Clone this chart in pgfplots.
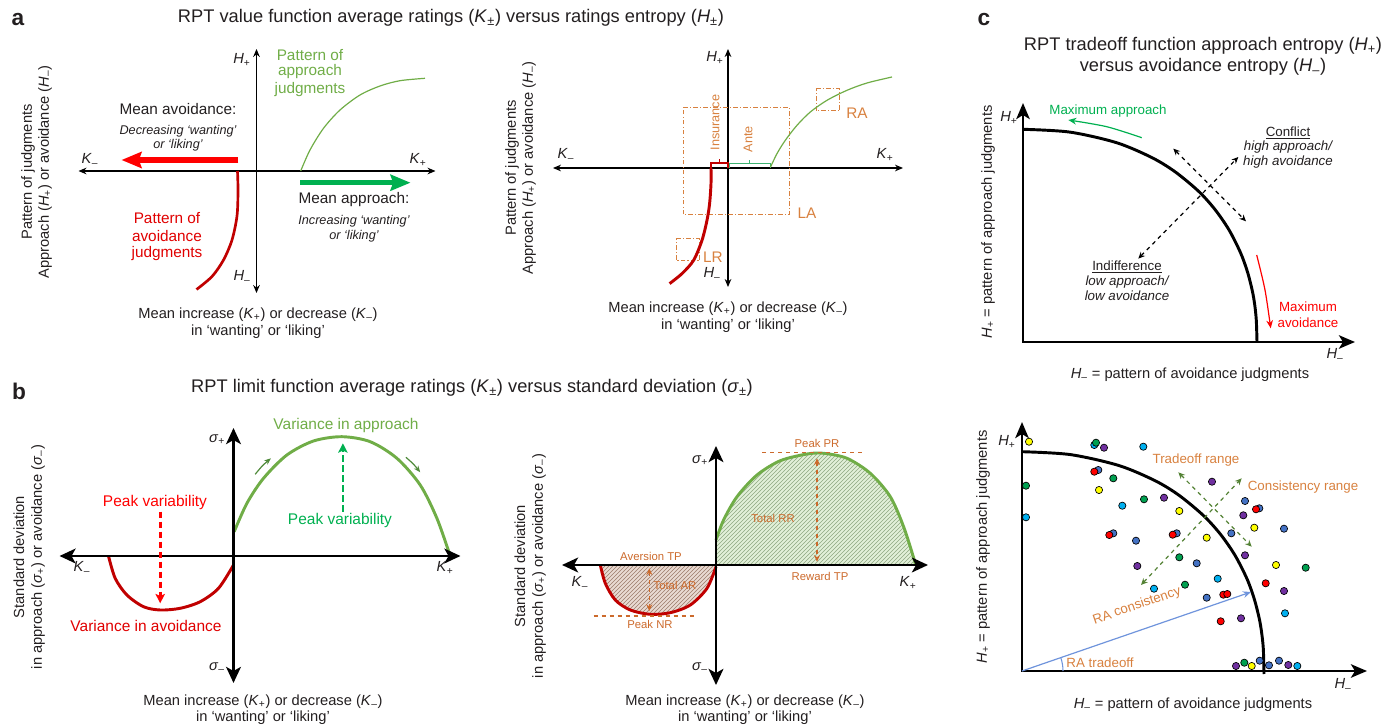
\documentclass[border=0pt]{standalone}
\usepackage{fontspec}
\setmainfont{Liberation Sans}
\usepackage{pgfplots}
\pgfplotsset{compat=1.18}
\usetikzlibrary{arrows.meta,patterns}
\definecolor{txt}{HTML}{231F20}
\definecolor{tgreen}{HTML}{70AD47}
\definecolor{bgreen}{HTML}{00B050}
\definecolor{brgreen}{HTML}{3CB371}
\definecolor{dred}{HTML}{C00000}
\definecolor{bred}{HTML}{FF0000}
\definecolor{trred}{HTML}{E00000}
\definecolor{orng}{HTML}{CC6A2C}
\definecolor{lorng}{HTML}{D8813F}
\definecolor{olive}{HTML}{548235}
\definecolor{arrgreen}{HTML}{4F8A3A}
\definecolor{lblue}{HTML}{6F94DC}
\definecolor{fillg}{HTML}{E2F0D9}
\definecolor{hatchg}{HTML}{8FA882}
\definecolor{fillr}{HTML}{E9DAD2}
\definecolor{hatchr}{HTML}{9C7B6B}
\definecolor{dyel}{HTML}{FFFF00}
\definecolor{dcyan}{HTML}{00B0F0}
\definecolor{dgreen}{HTML}{00A050}
\definecolor{dpurp}{HTML}{7030A0}
\definecolor{dblue}{HTML}{4472C4}
\definecolor{dredd}{HTML}{FF0000}
\newcommand{\fs}[1]{\fontsize{#1}{#1}\selectfont}
\newcommand{\Kp}{\textit{K}\textsubscript{+}}
\newcommand{\Km}{\textit{K}\textsubscript{–}}
\newcommand{\Hp}{\textit{H}\textsubscript{+}}
\newcommand{\Hm}{\textit{H}\textsubscript{–}}
\newcommand{\Sp}{\textit{σ}\textsubscript{+}}
\newcommand{\Sm}{\textit{σ}\textsubscript{–}}
\tikzset{
 axA/.style={line width=0.8pt, black, {Stealth[length=6pt,width=5pt]}-{Stealth[length=6pt,width=5pt]}},
 axB/.style={line width=2.2pt, black, {Stealth[length=12pt,width=11pt,inset=3pt]}-{Stealth[length=12pt,width=11pt,inset=3pt]}},
 axC/.style={line width=2.2pt, black, line join=miter, {Stealth[length=12pt,width=10pt,inset=3pt]}-{Stealth[length=12pt,width=10pt,inset=3pt]}},
 dbl/.style={{Stealth[length=5pt,width=4.5pt]}-{Stealth[length=5pt,width=4.5pt]}},
 box/.style={lorng, line width=0.75pt, dash pattern=on 3.5pt off 1.6pt on 0.8pt off 1.6pt},
}
\pgfplotsset{panel/.style={anchor=south west, scale only axis, hide axis, clip=false}}
\begin{document}
\begin{tikzpicture}[text=txt]
\useasboundingbox (0,0) rectangle (1039.5pt,-545.25pt);
% ---------------- panel a left
\begin{axis}[panel, at={(58.875pt,-219.75pt)}, width=267.75pt, height=183pt,
  xmin=-178, xmax=179, ymin=-122, ymax=122]
\draw[axA] (-178,0) -- (179,0);
\draw[axA] (0,-122) -- (0,122);
\addplot[tgreen, line width=0.9pt, smooth] coordinates {(44.2,0)(53.5,21)(67,42.7)(83.5,61)(103.5,76)(123.5,85)(143.5,90.3)(168.5,92.7)};
\addplot[dred, line width=2pt, smooth] coordinates {(-19,0)(-18.5,-20)(-19.5,-45)(-24.5,-69)(-33,-89)(-44.5,-105.5)(-60,-118.5)};
\addplot[bred, line width=3.9pt, -{Stealth[length=15pt,width=12pt,inset=2pt]}] coordinates {(-18.2,11)(-135,11)};
\addplot[bgreen, line width=3.9pt, -{Stealth[length=15pt,width=12pt,inset=2pt]}] coordinates {(43.5,-11.7)(154,-11.7)};
\end{axis}
% ---------------- panel a right
\begin{axis}[panel, at={(414.75pt,-215.25pt)}, width=262.5pt, height=178.5pt,
  xmin=-175, xmax=175, ymin=-119, ymax=119]
\draw[axA] (-175,0) -- (175,0);
\draw[axA] (0,-119) -- (0,119);
\addplot[box] coordinates {(-45,60)(61.6,60)(61.6,-46.6)(-45,-46.6)(-45,60)};
\addplot[box] coordinates {(88,79.4)(111.6,79.4)(111.6,57)(88,57)(88,79.4)};
\addplot[box] coordinates {(-51.7,-70.6)(-28.4,-70.6)(-28.4,-93)(-51.7,-93)(-51.7,-70.6)};
\addplot[brgreen, line width=0.9pt] coordinates {(1.3,0)(1.3,4.4)(42.3,4.4)(42.3,0)};
\addplot[brgreen, line width=0.9pt] coordinates {(21.6,4.4)(21.6,8.4)};
\addplot[dred, line width=0.9pt] coordinates {(-17,0)(-17,5)(0,5)(0,0)};
\addplot[dred, line width=0.9pt] coordinates {(-8.7,5)(-8.7,8.6)};
\addplot[tgreen, line width=0.9pt, smooth] coordinates {(42.3,0.5)(49,14.4)(57.3,27.7)(69,42.7)(82.3,56)(99,67.7)(119,77.7)(139,85)(164,91)};
\addplot[dred, line width=2.2pt, smooth] coordinates {(-17,0)(-17,-15.6)(-18.4,-35.6)(-21,-52.3)(-26,-72.3)(-34.4,-92.3)(-46,-105.6)(-58.4,-115.6)};
\end{axis}
% ---------------- panel b left
\begin{axis}[panel, at={(44.625pt,-512.25pt)}, width=300.75pt, height=191.25pt,
  xmin=-174, xmax=227, ymin=-127, ymax=128]
\addplot[tgreen, line width=2.2pt, smooth] coordinates {(0.7,24.3)(13.4,52.7)(30,77.7)(53.4,101)(80,115)(108.4,119.3)(136.7,114.3)(163.4,97.7)(186.7,71)(203.4,37.7)(216.7,0)};
\addplot[dred, line width=2.2pt, smooth] coordinates {(-125,0)(-118.3,-22.3)(-106.6,-39)(-90,-50.7)(-73.3,-54)(-53.3,-52.3)(-33.3,-45.7)(-15,-32.3)(0,-9)};
\draw[axB] (-174,0) -- (227,0);
\draw[axB] (0,-127) -- (0,128);
\addplot[bred, line width=2pt, dash pattern=on 5pt off 2.5pt, -{Stealth[length=7pt,width=7pt,inset=1.5pt]}] coordinates {(-73.3,44.3)(-73.3,-47.3)};
\addplot[bgreen, line width=2pt, dash pattern=on 5pt off 2.5pt, -{Stealth[length=7pt,width=7pt,inset=1.5pt]}] coordinates {(109.4,44.3)(109.4,112.7)};
\addplot[arrgreen, line width=0.9pt, smooth, -{Stealth[length=5pt,width=4pt]}] coordinates {(21.7,81.7)(29,90.3)(37.4,97.7)};
\addplot[arrgreen, line width=0.9pt, smooth, -{Stealth[length=5pt,width=4pt]}] coordinates {(172.4,98.7)(180,91.8)(186.7,83.7)};
\end{axis}
% ---------------- panel b right
\begin{axis}[panel, at={(421.5pt,-513.75pt)}, width=274.5pt, height=179.25pt,
  xmin=-154, xmax=212, ymin=-120, ymax=119]
\addplot[fill=fillg, draw=none, smooth] coordinates {(0,25)(7.6,45)(21,68.3)(41,90)(64.3,104.3)(91,111)(107.6,111.7)(131,106.7)(154.3,91.7)(174.3,68.3)(187.6,38.3)(198.3,5)(199.3,0)} \closedcycle;
\addplot[pattern=north east lines, pattern color=hatchg, draw=none, smooth] coordinates {(0,25)(7.6,45)(21,68.3)(41,90)(64.3,104.3)(91,111)(107.6,111.7)(131,106.7)(154.3,91.7)(174.3,68.3)(187.6,38.3)(198.3,5)(199.3,0)} \closedcycle;
\addplot[fill=fillr, draw=none, smooth] coordinates {(-115.7,0)(-110.7,-18.3)(-100.7,-35)(-85.7,-45)(-65.7,-49.3)(-45.7,-47.7)(-25.7,-40)(-9,-23.3)(0,-1.7)} \closedcycle;
\addplot[pattern=north east lines, pattern color=hatchr, draw=none, smooth] coordinates {(-115.7,0)(-110.7,-18.3)(-100.7,-35)(-85.7,-45)(-65.7,-49.3)(-45.7,-47.7)(-25.7,-40)(-9,-23.3)(0,-1.7)} \closedcycle;
\addplot[tgreen, line width=2.2pt, smooth] coordinates {(0,25)(7.6,45)(21,68.3)(41,90)(64.3,104.3)(91,111)(107.6,111.7)(131,106.7)(154.3,91.7)(174.3,68.3)(187.6,38.3)(198.3,5)(199.3,0)};
\addplot[dred, line width=2.2pt, smooth] coordinates {(-115.7,0)(-110.7,-18.3)(-100.7,-35)(-85.7,-45)(-65.7,-49.3)(-45.7,-47.7)(-25.7,-40)(-9,-23.3)(0,-1.7)};
\draw[axB] (-154,0) -- (212,0);
\draw[axB] (0,-120) -- (0,119);
\addplot[orng, dashed, line width=0.9pt] coordinates {(46,112.3)(149.3,112.3)};
\addplot[orng, dashed, line width=0.9pt] coordinates {(-122.4,-51)(-20.7,-51)};
\addplot[orng, dashed, line width=0.9pt, dbl] coordinates {(101,106.7)(101,3.3)};
\addplot[orng, dashed, line width=0.9pt, dbl] coordinates {(-66.7,-3.3)(-66.7,-46)};
\end{axis}
% ---------------- panel c top
\begin{axis}[panel, at={(767.25pt,-256.5pt)}, width=249pt, height=179.25pt,
  xmin=0, xmax=332, ymin=0, ymax=239]
\draw[axC] (0,239) -- (0,0) -- (332,0);
\addplot[black, line width=2.2pt, smooth] coordinates {(0,212.7)(46.8,209.9)(93.6,199.3)(128.7,184.5)(152.1,170.2)(175.5,150.8)(191.9,132.6)(205.9,112.3)(217.6,89.1)(224.6,69.7)(229.3,51.2)(231.7,37.4)(233.3,21.7)(234,0)};
\addplot[bgreen, line width=0.9pt, smooth, -{Stealth[length=6pt,width=5pt]}] coordinates {(118.7,204.3)(83.7,215.3)(45.3,222)};
\addplot[bred, line width=0.9pt, smooth, -{Stealth[length=6pt,width=5pt]}] coordinates {(233.7,87)(242,52)(247.7,13.7)};
\addplot[black, dashed, line width=0.9pt, dbl] coordinates {(115.3,83.4)(215.3,185)};
\addplot[black, dashed, line width=0.9pt, dbl] coordinates {(150.3,193.4)(223,120.7)};
\end{axis}
% ---------------- panel c bottom
\begin{axis}[panel, at={(766.5pt,-503.25pt)}, width=258.75pt, height=186.75pt,
  xmin=0, xmax=345, ymin=0, ymax=249]
\draw[axC] (0,249) -- (0,0) -- (345,0);
\addplot[black, line width=2.2pt, smooth] coordinates {(0,219.3)(48.4,216.4)(96.8,205.5)(133.1,190.3)(157.3,175.5)(181.5,155.4)(198.4,136.8)(213,115.7)(225.1,91.9)(232.3,71.9)(237.2,52.7)(239.6,38.6)(241.3,22.4)(242,-3)};
\addplot[lblue, line width=0.9pt, -{Stealth[length=6pt,width=5pt]}] coordinates {(0,0)(229,79)};
\draw[lblue, line width=0.8pt] (41,0) arc[start angle=0, end angle=19, radius=30.75pt];
\addplot[olive, dashed, line width=0.9pt, dbl] coordinates {(119,86)(219.7,192.7)};
\addplot[olive, dashed, line width=0.9pt, dbl] coordinates {(156.3,198.7)(229.7,124.3)};
\addplot[only marks, mark=*, mark size=2.7pt, mark options={fill=dcyan, draw=black, line width=0.5pt}] coordinates {(72.3,226)(121.3,224.3)(100.3,165.3)(4,153.7)(195.7,92.3)(132,82.3)(263,57.7)(275.3,5)};
\addplot[only marks, mark=*, mark size=2.7pt, mark options={fill=dgreen, draw=black, line width=0.5pt}] coordinates {(74,228.3)(91.3,192.7)(4,185.3)(122,171.7)(157.3,113.7)(283.7,103.3)(163,86.3)(222.3,8.3)};
\addplot[only marks, mark=*, mark size=2.7pt, mark options={fill=dyel, draw=black, line width=0.5pt}] coordinates {(7,229.3)(77,181)(157.3,160)(232.3,143.3)(184.7,133.3)(254,106)(229.7,5)};
\addplot[only marks, mark=*, mark size=2.7pt, mark options={fill=dpurp, draw=black, line width=0.5pt}] coordinates {(82,223.3)(190,189.3)(142,173.3)(221.3,155.7)(223,115.7)(115.3,105)(262,80)(219,52.7)(214,5)(266.3,6)};
\addplot[only marks, mark=*, mark size=2.7pt, mark options={fill=dblue, draw=black, line width=0.5pt}] coordinates {(76.3,201)(223,170)(237.3,162.7)(262,142.3)(91.3,137.7)(154.7,137.7)(114,130.3)(209.3,137.7)(174.7,107.7)(184.7,73.3)(237.7,10.3)(247,5.7)(257,10.3)};
\addplot[only marks, mark=*, mark size=2.7pt, mark options={fill=dredd, draw=black, line width=0.5pt}] coordinates {(72.3,199.3)(234,161.7)(87.3,136)(150.7,136.3)(243.7,87.7)(201.3,76.3)(205.3,77)(198.7,49.7)};
\end{axis}
% ================= texts (pixel coordinates)
\begin{scope}[x=0.75pt, y=-0.75pt]
% panel a
\node[font=\fs{17}\bfseries] at (18,20) {a};
\node[font=\fs{13.7}] at (451,18) {RPT value function average ratings (\textit{K}\textsubscript{±}) versus ratings entropy (\textit{H}\textsubscript{±})};
\node[font=\fs{11}, rotate=90] at (28,172) {Pattern of judgments};
\node[font=\fs{11}, rotate=90] at (45,172) {Approach (\Hp) or avoidance (\Hm)};
\node[font=\fs{11}] at (258,315) {Mean increase (\Kp) or decrease (\Km)};
\node[font=\fs{11}] at (258,332) {in ‘wanting’ or ‘liking’};
\node[font=\fs{11.5}] at (178,109) {Mean avoidance:};
\node[font=\fs{9.5}\itshape] at (178,131) {Decreasing ‘wanting’};
\node[font=\fs{9.5}\itshape] at (178,145) {or ‘liking’};
\node[font=\fs{11.5}, text=tgreen] at (310,55) {Pattern of};
\node[font=\fs{11.5}, text=tgreen] at (310,72) {approach};
\node[font=\fs{11.5}, text=tgreen] at (310,90) {judgments};
\node[font=\fs{11.5}] at (354,200) {Mean approach:};
\node[font=\fs{9.5}\itshape] at (354,221) {Increasing ‘wanting’};
\node[font=\fs{9.5}\itshape] at (354,236) {or ‘liking’};
\node[font=\fs{11.5}, text=trred] at (167,218) {Pattern of};
\node[font=\fs{11.5}, text=trred] at (167,236) {avoidance};
\node[font=\fs{11.5}, text=trred] at (167,254) {judgments};
\node[font=\fs{11}] at (242,60) {\Hp};
\node[font=\fs{11}] at (242,277) {\Hm};
\node[font=\fs{11}] at (90,160) {\Km};
\node[font=\fs{11}] at (418,160) {\Kp};
% panel a right
\node[font=\fs{11}, rotate=90] at (512,168) {Pattern of judgments};
\node[font=\fs{11}, rotate=90] at (529,168) {Approach (\Hp) or avoidance (\Hm)};
\node[font=\fs{11}] at (728,309) {Mean increase (\Kp) or decrease (\Km)};
\node[font=\fs{11}] at (728,326) {in ‘wanting’ or ‘liking’};
\node[font=\fs{11}] at (715,58) {\Hp};
\node[font=\fs{11}] at (712,274) {\Hm};
\node[font=\fs{11}] at (566,155) {\Km};
\node[font=\fs{11}] at (885,155) {\Kp};
\node[font=\fs{9.5}, text=lorng, rotate=90] at (715,122.5) {Insurance};
\node[font=\fs{9.5}, text=lorng, rotate=90] at (748,139) {Ante};
\node[font=\fs{11.5}, text=lorng] at (807,213) {LA};
\node[font=\fs{11.5}, text=lorng] at (857,113) {RA};
\node[font=\fs{11.5}, text=lorng] at (713,257) {LR};
% panel b
\node[font=\fs{17}\bfseries] at (19,391) {b};
\node[font=\fs{13.7}] at (472,388) {RPT limit function average ratings (\textit{K}\textsubscript{±}) versus standard deviation (\textit{σ}\textsubscript{±})};
\node[font=\fs{11}, rotate=90] at (19,557) {Standard deviation};
\node[font=\fs{11}, rotate=90] at (38,557) {in approach (\Sp) or avoidance (\Sm)};
\node[font=\fs{11}] at (263,702) {Mean increase (\Kp) or decrease (\Km)};
\node[font=\fs{11}] at (263,718) {in ‘wanting’ or ‘liking’};
\node[font=\fs{11}] at (217,440) {\Sp};
\node[font=\fs{11}] at (217,668) {\Sm};
\node[font=\fs{11}] at (82,568) {\Km};
\node[font=\fs{11}] at (445,568) {\Kp};
\node[font=\fs{11.6}, text=tgreen] at (346,426) {Variance in approach};
\node[font=\fs{11.6}, text=bgreen] at (340,521) {Peak variability};
\node[font=\fs{11.6}, text=bred] at (155,503) {Peak variability};
\node[font=\fs{11.6}, text=trred] at (146,626) {Variance in avoidance};
% panel b right
\node[font=\fs{11}, rotate=90] at (520,566) {Standard deviation};
\node[font=\fs{11}, rotate=90] at (539,566) {in approach (\Sp) or avoidance (\Sm)};
\node[font=\fs{11}] at (745,702) {Mean increase (\Kp) or decrease (\Km)};
\node[font=\fs{11}] at (745,718) {in ‘wanting’ or ‘liking’};
\node[font=\fs{11}] at (700,461) {\Sp};
\node[font=\fs{11}] at (700,668) {\Sm};
\node[font=\fs{11}] at (580,583) {\Km};
\node[font=\fs{11}] at (908,583) {\Kp};
\node[font=\fs{8.5}, text=orng] at (817,443) {Peak PR};
\node[font=\fs{8.5}, text=orng] at (650,624) {Peak NR};
\node[font=\fs{8.5}, text=orng] at (651,556) {Aversion TP};
\node[font=\fs{8.5}, text=orng] at (820,576) {Reward TP};
\node[font=\fs{8.5}, text=orng] at (773,518) {Total RR};
\node[font=\fs{8.5}, text=orng] at (675,585) {Total AR};
% panel c top
\node[font=\fs{17}\bfseries] at (984,20) {c};
\node[font=\fs{13.7}] at (1203,46) {RPT tradeoff function approach entropy (\Hp)};
\node[font=\fs{13.7}] at (1203,67) {versus avoidance entropy (\Hm)};
\node[font=\fs{11}, rotate=90] at (988,222) {\Hp\ = pattern of approach judgments};
\node[font=\fs{11}] at (1190,375) {\Hm\ = pattern of avoidance judgments};
\node[font=\fs{11}] at (1009,118) {\Hp};
\node[font=\fs{11}] at (1335,355) {\Hm};
\node[font=\fs{10}, text=bgreen] at (1108,111) {Maximum approach};
\node[font=\fs{10}] at (1288,133) {\underline{Conflict}};
\node[font=\fs{10}\itshape] at (1288,147) {high approach/};
\node[font=\fs{10}\itshape] at (1288,162) {high avoidance};
\node[font=\fs{10}] at (1127,267) {\underline{Indifference}};
\node[font=\fs{10}\itshape] at (1127,282) {low approach/};
\node[font=\fs{10}\itshape] at (1127,296) {low avoidance};
\node[font=\fs{10}, text=bred] at (1308,307) {Maximum};
\node[font=\fs{10}, text=bred] at (1308,323) {avoidance};
% panel c bottom
\node[font=\fs{11}, rotate=90] at (983,547) {\Hp\ = pattern of approach judgments};
\node[font=\fs{11}] at (1193,705) {\Hm\ = pattern of avoidance judgments};
\node[font=\fs{11}] at (1007,442) {\Hp};
\node[font=\fs{11}] at (1343,685) {\Hm};
\node[font=\fs{10}, text=lorng] at (1196,460) {Tradeoff range};
\node[font=\fs{10}, text=lorng] at (1303,487) {Consistency range};
\node[font=\fs{10}, text=lorng, rotate=19, inner sep=1pt] at (1137,606) {RA consistency};
\node[font=\fs{10}, text=lorng] at (1100,663) {RA tradeoff};
\end{scope}
\end{tikzpicture}
\end{document}
